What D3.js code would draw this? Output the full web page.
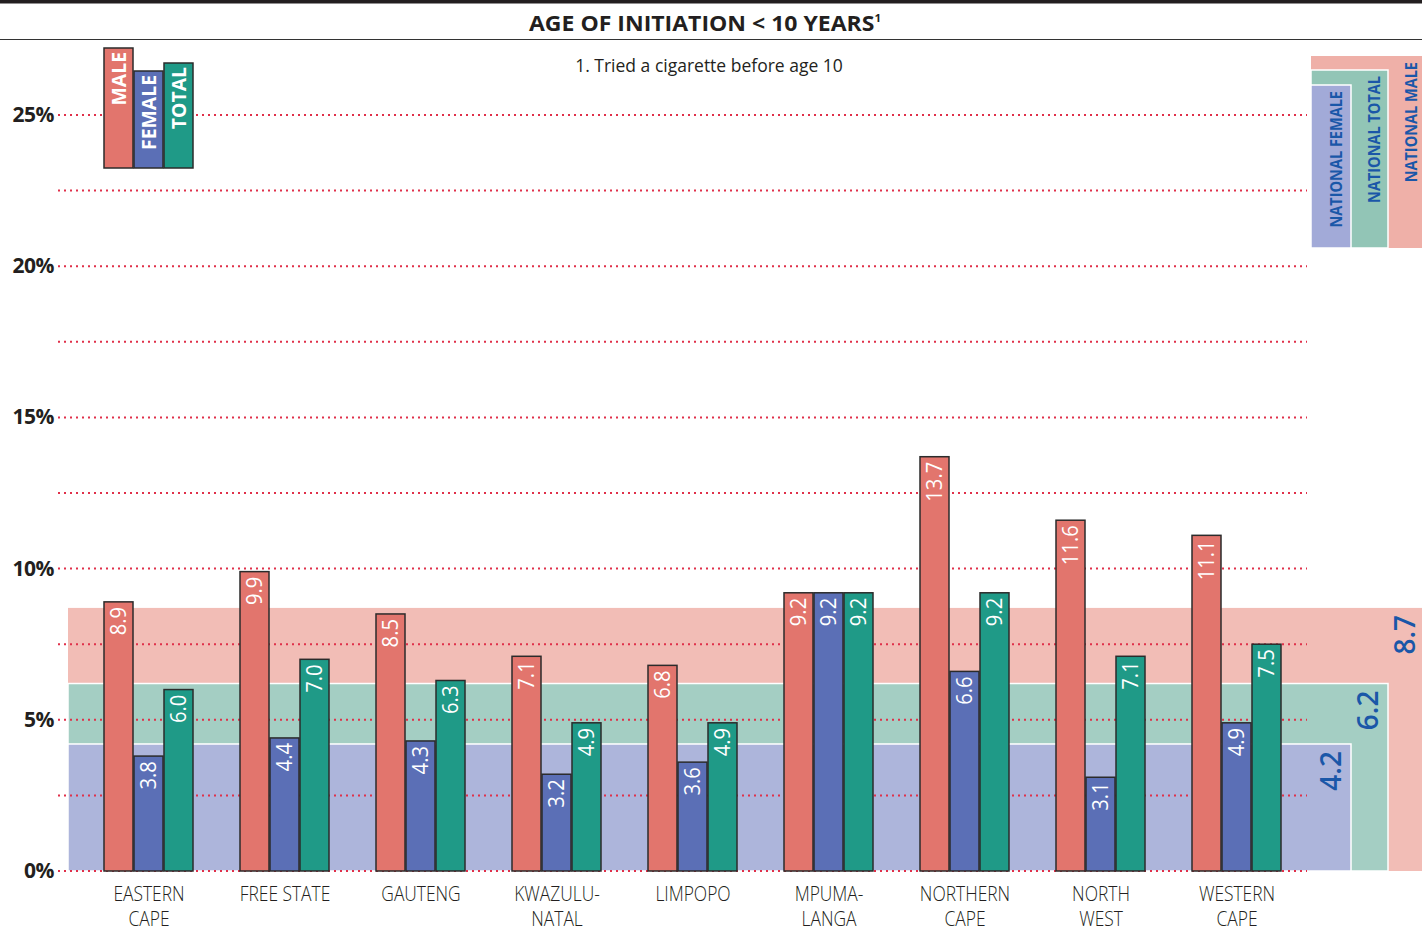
<!DOCTYPE html>
<html><head><meta charset="utf-8">
<script src="https://cdn.jsdelivr.net/npm/d3@7"></script>
<style>body{margin:0;background:#fff}svg{display:block}</style>
</head><body>
<svg id="c" width="1422" height="930"></svg>
<script>
const categories = [["EASTERN","CAPE"],["FREE STATE"],["GAUTENG"],["KWAZULU-","NATAL"],["LIMPOPO"],["MPUMA-","LANGA"],["NORTHERN","CAPE"],["NORTH","WEST"],["WESTERN","CAPE"]];
const male   = [8.9, 9.9, 8.5, 7.1, 6.8, 9.2, 13.7, 11.6, 11.1];
const female = [3.8, 4.4, 4.3, 3.2, 3.6, 9.2, 6.6, 3.1, 4.9];
const total  = [6.0, 7.0, 6.3, 4.9, 4.9, 9.2, 9.2, 7.1, 7.5];
const seriesNames = ["MALE","FEMALE","TOTAL"];
const national = [{name:"NATIONAL MALE", v:8.7}, {name:"NATIONAL TOTAL", v:6.2}, {name:"NATIONAL FEMALE", v:4.2}];
const tickValues = [0,5,10,15,20,25];
const gridValues = [0,2.5,5,7.5,10,12.5,15,17.5,20,22.5,25];

const colors = {MALE:"#e2756d", FEMALE:"#5b6fb6", TOTAL:"#1f9a87"};
const bandColors = ["#f2bdb6","#a4cec3","#adb5db"];
const legColors = ["#efb0a8","#92c5b6","#a2aad8"];
const blue = "#1a57a8";
const font = "'Open Sans', 'Noto Sans', sans-serif";

const svg = d3.select("#c");
const y = d3.scaleLinear().domain([0,25]).range([871,115]);
const x = d3.scaleBand().domain(d3.range(categories.length)).range([81,1305]);
const xs = d3.scaleBand().domain(seriesNames).range([-45,45]);

// top bar & title
svg.append("rect").attr("x",0).attr("y",0).attr("width",1422).attr("height",3.5).attr("fill","#231f20");
svg.append("line").attr("x1",0).attr("x2",1422).attr("y1",39.5).attr("y2",39.5).attr("stroke","#333").attr("stroke-width",1.2);
const title = svg.append("text").attr("x",705).attr("y",31).attr("text-anchor","middle")
  .attr("font-family",font).attr("font-weight","bold").attr("font-size",22).attr("fill","#231f20")
  .attr("textLength",352).attr("lengthAdjust","spacingAndGlyphs")
  .text("AGE OF INITIATION < 10 YEARS");
title.append("tspan").attr("font-size",11).attr("dy",-9).text("1");
svg.append("text").attr("x",709).attr("y",72).attr("text-anchor","middle")
  .attr("font-family",font).attr("font-size",17.5).attr("fill","#231f20").text("1. Tried a cigarette before age 10");

// national bands (horizontal)
const bandRight = [1422,1388,1351];
national.forEach((n,i)=>{
  svg.append("rect").attr("x",68).attr("y",y(n.v)).attr("width",bandRight[i]-68).attr("height",y(0)-y(n.v))
    .attr("fill", bandColors[i]).attr("stroke", i===0?"none":"#fff").attr("stroke-width",1.5);
});
// national legend (vertical blocks, top right)
const legTop = [56,70,85];
const legBottom = 248;
national.forEach((n,i)=>{
  svg.append("rect").attr("x",1311).attr("y",legTop[i]).attr("width",bandRight[i]-1311).attr("height",legBottom-legTop[i])
    .attr("fill", legColors[i]).attr("stroke", i===0?"none":"#fff").attr("stroke-width",1.5);
});
const legX = [1417,1380,1342];
national.forEach((n,i)=>{
  svg.append("text").attr("transform",`translate(${legX[i]},${legTop[i]+6}) rotate(-90) scale(0.88,1)`)
    .attr("text-anchor","end").attr("font-family",font).attr("font-weight","bold").attr("font-size",16.5)
    .attr("fill",blue).text(n.name);
});
// national value labels
const valX = [1415,1378,1341];
national.forEach((n,i)=>{
  svg.append("text").attr("transform",`translate(${valX[i]},${y(n.v)+7}) rotate(-90)`)
    .attr("text-anchor","end").attr("font-family",font).attr("font-weight",600).attr("font-size",28)
    .attr("fill",blue).text(n.v.toFixed(1));
});

// grid
svg.append("g").selectAll("line").data(gridValues).join("line")
  .attr("x1",58).attr("x2",1307).attr("y1",d=>y(d)).attr("y2",d=>y(d))
  .attr("stroke","#e0304a").attr("stroke-width",2).attr("stroke-dasharray","2,4");
// tick labels
svg.append("g").selectAll("text").data(tickValues).join("text")
  .attr("x",54).attr("y",d=>y(d)+7).attr("text-anchor","end")
  .attr("font-family",font).attr("font-weight","bold").attr("font-size",21).attr("fill","#231f20")
  .attr("letter-spacing",-0.5)
  .text(d=>d+"%");

// bars
const data = categories.map((c,i)=>({i, vals:[male[i],female[i],total[i]]}));
const groups = svg.append("g").selectAll("g").data(data).join("g")
  .attr("transform",d=>`translate(${x(d.i)+x.bandwidth()/2},0)`);
groups.selectAll("rect").data(d=>d.vals.map((v,k)=>({v,s:seriesNames[k]}))).join("rect")
  .attr("x",d=>xs(d.s)).attr("width",xs.bandwidth()-1)
  .attr("y",d=>y(d.v)).attr("height",d=>y(0)-y(d.v))
  .attr("fill",d=>colors[d.s]).attr("stroke","#2b2b2b").attr("stroke-width",1.5);
groups.selectAll("text.v").data(d=>d.vals.map((v,k)=>({v,s:seriesNames[k]}))).join("text")
  .attr("class","v")
  .attr("transform",d=>`translate(${xs(d.s)+xs.bandwidth()/2+7},${y(d.v)+5}) rotate(-90) scale(0.92,1)`)
  .attr("text-anchor","end").attr("font-family",font).attr("font-size",22).attr("fill","#fff")
  .text(d=>d.v.toFixed(1));

// category labels
groups.each(function(d){
  const t = d3.select(this).append("text").attr("text-anchor","middle")
    .attr("transform","scale(0.87,1)")
    .attr("font-family",font).attr("font-weight",300).attr("font-size",20).attr("fill","#231f20");
  categories[d.i].forEach((line,k)=>{
    t.append("tspan").attr("x",0).attr("y",901+k*25).text(line);
  });
});

// legend (top-left)
const legVals = [{s:"MALE",top:48},{s:"FEMALE",top:71},{s:"TOTAL",top:63}];
const lg = svg.append("g").attr("transform",`translate(149,0)`);
lg.selectAll("rect").data(legVals).join("rect")
  .attr("x",d=>xs(d.s)).attr("width",xs.bandwidth()-1).attr("y",d=>d.top).attr("height",d=>168-d.top)
  .attr("fill",d=>colors[d.s]).attr("stroke","#2b2b2b").attr("stroke-width",1.5);
lg.selectAll("text").data(legVals).join("text")
  .attr("transform",d=>`translate(${xs(d.s)+xs.bandwidth()/2+7},${d.top+4}) rotate(-90) scale(0.97,1)`)
  .attr("text-anchor","end").attr("font-family",font).attr("font-weight","bold").attr("font-size",20).attr("fill","#fff")
  .text(d=>d.s);
</script>
</body></html>
